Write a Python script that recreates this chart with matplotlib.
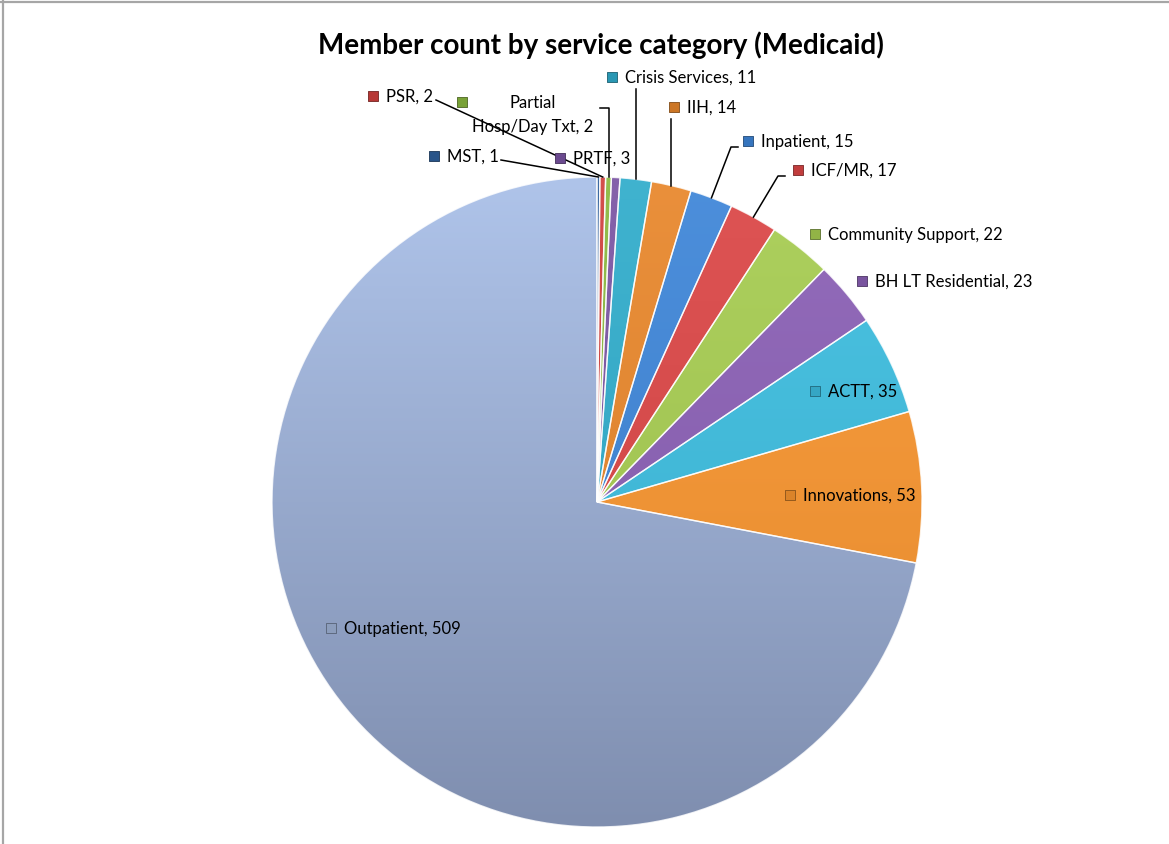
import numpy as np
import matplotlib
matplotlib.use('Agg')
import matplotlib.pyplot as plt
from matplotlib.colors import to_rgb, LinearSegmentedColormap
from matplotlib.lines import Line2D

# data
categories = ['MST', 'PSR', 'Partial\nHosp/Day Txt', 'PRTF', 'Crisis Services', 'IIH',
              'Inpatient', 'ICF/MR', 'Community Support', 'BH LT Residential',
              'ACTT', 'Innovations', 'Outpatient']
counts = [1, 2, 2, 3, 11, 14, 15, 17, 22, 23, 35, 53, 509]
colors = ['#2e5f9c', '#d03f3c', '#8ab83e', '#7a54a3', '#2faccb', '#e8862a',
          '#3d85d8', '#db4545', '#a6cc50', '#8a5fb5', '#3cbddf', '#f8952f', '#9fb2d6']

W, H = 1169, 845
plt.rcParams['font.family'] = ['Lato', 'DejaVu Sans']

fig = plt.figure(figsize=(W / 100, H / 100), dpi=100)
ax = fig.add_axes([0, 0, 1, 1])

cx, cy, R = 597, 503, 325

def Y(y):
    # image row -> data y
    return H - y

wedges, _ = ax.pie(counts, startangle=90, counterclock=False, radius=R,
                   center=(cx, Y(cy)), colors=colors,
                   wedgeprops=dict(edgecolor='white', linewidth=1.0))

def shade(c, f):
    r = np.array(to_rgb(c))
    if f > 0:
        return tuple(r + (1 - r) * f)
    return tuple(r * (1 + f))

# vertical gradient on each slice (Excel-ish look)
grad = np.linspace(0, 1, 256).reshape(-1, 1)
for w, c in zip(wedges, colors):
    if c == '#9fb2d6':
        top, bot = '#afc4ea', '#7f8eaf'
    else:
        top, bot = shade(c, 0.08), shade(c, -0.08)
    cmap = LinearSegmentedColormap.from_list('g', [bot, top])
    im = ax.imshow(grad, cmap=cmap, origin='lower', aspect='auto',
                   extent=(cx - R, cx + R, Y(cy) - R, Y(cy) + R), zorder=1.5)
    im.set_clip_path(w)
    w.set_facecolor('none')
    w.set_zorder(2)
    w.set_edgecolor((1, 1, 1, 0.8))

# labels: square centre in image pixels
label_pos = [(434, 157), (373, 97), (462, 103), (560, 159), (612, 78), (674, 108),
             (748, 142), (798, 171), (815, 235), (862, 282), (815, 392), (790, 496),
             (331, 629)]

for (sx, sy), name, n, c in zip(label_pos, categories, counts, colors):
    ax.scatter([sx], [Y(sy)], marker='s', s=46, color=shade(c, -0.12),
               edgecolor=shade(c, -0.45), linewidth=0.6, zorder=5)
    if '\n' in name:
        a, b = name.split('\n')
        ax.text(533, Y(115), f'{a}\n{b}, {n}', ha='center', va='center',
                multialignment='center', fontsize=12, color='#000000',
                linespacing=1.55, zorder=6)
    else:
        ax.text(sx + 13, Y(sy), f'{name}, {n}', ha='left', va='center',
                fontsize=12, color='#000000', zorder=6)

# leader lines to slice edges
def edge_pt(i):
    w = wedges[i]
    a = np.deg2rad((w.theta1 + w.theta2) / 2)
    return cx + R * np.cos(a), Y(cy) + R * np.sin(a)

leaders = {
    0: [(501, 161)],
    1: [(436, 101)],
    2: [(600, 109), 'elbow'],
    4: [(636, 90), 'vert'],
    5: [(672, 120), 'vert'],
    6: [(738, 148), (731, 148)],
    7: [(785, 177), (778, 177)],
}
for i, pts in leaders.items():
    ex, ey = edge_pt(i)
    if pts[-1] == 'elbow':
        px, py = pts[0]
        xs = [px, ex, ex]
        ys = [Y(py), Y(py), ey]
    elif pts[-1] == 'vert':
        px, py = pts[0]
        xs = [ex, ex]
        ys = [Y(py), ey]
    else:
        xs = [p[0] for p in pts] + [ex]
        ys = [Y(p[1]) for p in pts] + [ey]
    ax.plot(xs, ys, color='black', lw=1.1, zorder=4)

ax.text(601, Y(45), 'Member count by service category (Medicaid)', ha='center',
        va='center', fontsize=20, fontweight='bold', color='black')

ax.set_xlim(0, W)
ax.set_ylim(0, H)
ax.set_aspect('equal')
ax.axis('off')

# chart area border (top and left visible)
fig.add_artist(Line2D([0, 1], [1 - 2.5 / H, 1 - 2.5 / H], color='#a6a6a6', lw=1.6))
fig.add_artist(Line2D([3 / W, 3 / W], [0, 1], color='#a6a6a6', lw=1.6))

fig.savefig('out.png', dpi=100, facecolor='white')
